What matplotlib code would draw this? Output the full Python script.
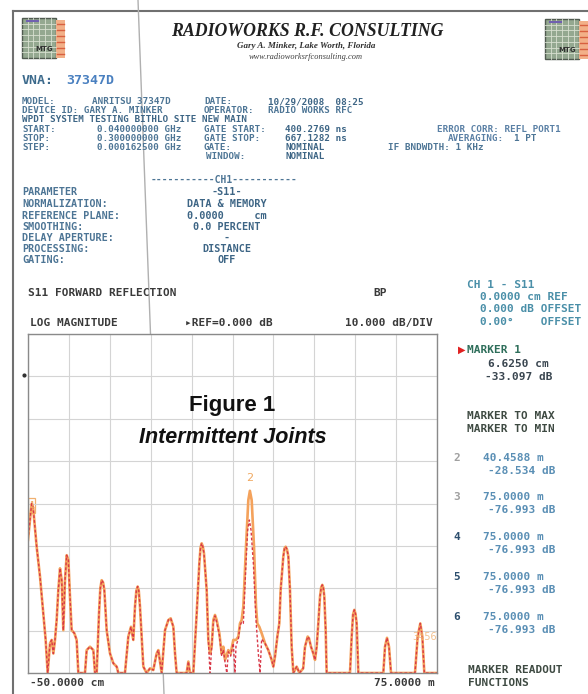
import matplotlib
matplotlib.use('Agg')
import matplotlib.pyplot as plt
import matplotlib.patches as mpatches
import numpy as np

# trace data (distance in m, magnitude in dB)
data_m = [-0.5, 0.05, 0.2, 0.45, 1.10, 1.72, 2.33, 2.76, 3.13, 3.56, 3.87, 4.18, 4.48, 4.79, 5.10,
          5.41, 5.72, 6.02, 6.33, 6.64, 6.95, 7.25, 7.56, 8.05, 8.48, 8.79, 10.02, 10.33, 10.94,
          11.56, 11.87, 12.18, 12.61, 12.85, 13.10, 13.35, 13.59, 14.02, 14.64, 15.25, 15.87,
          16.17, 17.40, 18.02, 18.51, 18.94, 19.25, 19.50, 19.74, 19.95, 20.17, 20.48, 20.79,
          21.40, 22.02, 22.63, 23.25, 23.56, 24.17, 24.79, 25.41, 25.84, 26.33, 26.64, 26.94,
          28.79, 29.10, 29.40, 30.02, 30.64, 31.13, 31.35, 31.56, 31.78, 31.99, 32.48, 32.79,
          33.10, 33.40, 33.71, 34.02, 34.33, 34.82, 35.25, 35.56, 35.87, 36.48, 36.91, 37.40,
          37.90, 38.33, 38.63, 38.94, 39.25, 39.74, 40.17, 40.46, 40.79, 41.22, 41.59, 41.83,
          42.20, 42.63, 43.25, 43.86, 44.48, 44.79, 45.10, 45.53, 45.89, 46.14, 46.63, 46.85,
          47.06, 47.30, 47.56, 47.86, 48.17, 48.48, 49.10, 49.60, 50.30, 50.63, 51.13, 51.37,
          51.74, 52.17, 52.48, 52.79, 53.09, 53.40, 53.62, 53.83, 54.02, 54.20, 54.45, 54.63,
          58.94, 59.25, 59.50, 59.74, 59.95, 60.17, 60.48, 65.09, 65.40, 65.77, 66.14, 66.51,
          70.94, 71.43, 71.92, 72.29, 72.66, 75.0]
data_db = [-38.6, -31.5, -30.0, -31.0, -40.2, -47.3, -55.9, -62.2, -70.0, -63.0, -62.2, -65.4,
           -62.2, -57.5, -50.4, -45.3, -48.1, -59.9, -48.1, -42.2, -43.3, -52.0, -59.9, -60.6,
           -62.2, -70.0, -70.0, -64.6, -63.8, -64.6, -70.0, -70.0, -55.9, -50.0, -48.1, -48.6,
           -50.4, -59.9, -65.4, -67.7, -68.5, -70.0, -70.0, -61.4, -59.1, -62.2, -54.3, -50.6,
           -49.6, -50.6, -54.3, -61.4, -68.5, -70.0, -68.9, -69.3, -65.4, -64.6, -70.0, -59.9,
           -57.5, -57.1, -59.1, -65.4, -70.0, -70.0, -67.3, -70.0, -70.0, -55.9, -44.1, -40.4,
           -39.4, -40.2, -41.8, -50.4, -62.2, -65.4, -63.8, -57.5, -56.3, -57.5, -60.6, -65.4,
           -63.8, -66.9, -64.6, -65.4, -62.2, -62.2, -61.4, -58.3, -57.5, -54.3, -40.2, -29.2,
           -27.0, -29.2, -40.2, -54.3, -58.3, -59.1, -60.6, -63.0, -64.6, -66.9, -68.5, -66.1,
           -61.4, -58.3, -50.4, -42.5, -40.6, -40.2, -40.8, -42.5, -50.4, -63.8, -70.0, -68.5,
           -70.0, -68.9, -63.8, -61.4, -61.8, -63.8, -65.4, -66.9, -63.8, -58.3, -52.0, -49.8,
           -49.2, -49.9, -52.0, -59.9, -70.0, -70.0, -61.4, -56.2, -55.1, -56.0, -58.3, -70.0,
           -70.0, -63.8, -61.7, -63.8, -70.0, -70.0, -61.4, -58.3, -61.4, -70.0, -70.0]

# memory trace differs from the data trace between 32.5 m and 42.7 m
mem_m = [32.79, 33.10, 33.40, 33.71, 34.02, 34.33, 34.82, 35.25, 35.56, 35.87, 36.20, 36.48,
         36.91, 37.40, 37.70, 37.90, 38.33, 38.63, 38.94, 39.25, 39.74, 40.05, 40.36, 40.67,
         41.10, 41.59, 42.02, 42.33, 42.63]
mem_db = [-62.2, -70.0, -64.0, -58.0, -56.5, -58.0, -61.0, -66.0, -64.5, -67.5, -70.0, -65.0,
          -66.0, -63.0, -70.0, -63.5, -62.0, -58.8, -58.0, -58.3, -44.1, -36.3, -33.9, -36.3,
          -44.1, -57.5, -65.4, -70.0, -62.0]

# page text: (x px, y px, text, colour)
header_rows = [
    (22, 101.5, 'MODEL:', '#4d7595'), (92, 101.5, 'ANRITSU 37347D', '#4d7595'),
    (204, 101.5, 'DATE:', '#4d7595'), (268, 101.5, '10/29/2008  08:25', '#3d6585'),
    (22, 110.5, 'DEVICE ID: GARY A. MINKER', '#4d7595'),
    (204, 110.5, 'OPERATOR:', '#4d7595'), (268, 110.5, 'RADIO WORKS RFC', '#4d7595'),
    (22, 119.5, 'WPDT SYSTEM TESTING BITHLO SITE NEW MAIN', '#3d6585'),
    (22, 129.5, 'START:', '#4d7595'), (97, 129.5, '0.040000000 GHz', '#4d7595'),
    (204, 129.5, 'GATE START:', '#4d7595'), (285, 129.5, '400.2769 ns', '#3d6585'),
    (437, 129.5, 'ERROR CORR: REFL PORT1', '#5a80a5'),
    (22, 138.5, 'STOP:', '#4d7595'), (97, 138.5, '0.300000000 GHz', '#4d7595'),
    (204, 138.5, 'GATE STOP:', '#4d7595'), (285, 138.5, '667.1282 ns', '#3d6585'),
    (448, 138.5, 'AVERAGING:', '#5a80a5'), (514, 138.5, '1 PT', '#4d7595'),
    (22, 147.5, 'STEP:', '#4d7595'), (97, 147.5, '0.000162500 GHz', '#4d7595'),
    (204, 147.5, 'GATE:', '#4d7595'), (285, 147.5, 'NOMINAL', '#3d6585'),
    (388, 147.5, 'IF BNDWDTH: 1 KHz', '#4d7595'),
    (206, 156.5, 'WINDOW:', '#4d7595'), (285, 156.5, 'NOMINAL', '#3d6585'),
]
param_labels = ['PARAMETER', 'NORMALIZATION:', 'REFERENCE PLANE:', 'SMOOTHING:',
                'DELAY APERTURE:', 'PROCESSING:', 'GATING:']
param_values = ['-S11-', 'DATA & MEMORY', '0.0000     cm', '0.0 PERCENT', '-', 'DISTANCE', 'OFF']
param_y = [192, 204, 216, 227, 238, 249, 260]

marker_num = ['2', '3', '4', '5', '6']
marker_pos = ['40.4588 m', '75.0000 m', '75.0000 m', '75.0000 m', '75.0000 m']
marker_val = ['-28.534 dB', '-76.993 dB', '-76.993 dB', '-76.993 dB', '-76.993 dB']
marker_y = [458, 497, 537, 577, 617]
marker_num_col = ['#a0a0a0', '#a0a0a0', '#2d4f6e', '#2d4f6e', '#2d4f6e']

W, H = 588, 694
fig = plt.figure(figsize=(W / 100, H / 100), dpi=100)
fig.patch.set_facecolor('white')

bg = fig.add_axes([0, 0, 1, 1])
bg.set_xlim(0, W)
bg.set_ylim(H, 0)
bg.axis('off')

mono = 'DejaVu Sans Mono'

# page frame and the scanner fold line
bg.plot([13, W], [11, 11], color='#707070', lw=1.5)
bg.plot([13, 13], [11, H], color='#707070', lw=1.5)
bg.plot([138, 164], [0, H], color='#b0b0b0', lw=1.0)


def logo(x0, y0):
    bg.add_patch(mpatches.Rectangle((x0, y0), 34, 40, facecolor='#94a890', edgecolor='#505a50', lw=1))
    for k in range(1, 6):
        bg.plot([x0 + k * 5.7, x0 + k * 5.7], [y0, y0 + 40], color='#d8e0d0', lw=0.6)
    for k in range(1, 7):
        bg.plot([x0, x0 + 34], [y0 + k * 5.7, y0 + k * 5.7], color='#d8e0d0', lw=0.6)
    bg.add_patch(mpatches.Rectangle((x0 + 34, y0 + 2), 9, 38, facecolor='#f2b088', edgecolor='none'))
    for k in range(6):
        bg.plot([x0 + 35, x0 + 42], [y0 + 6 + k * 6, y0 + 6 + k * 6], color='#d86040', lw=1)
    bg.plot([x0 + 5, x0 + 16], [y0 + 3, y0 + 3], color='#7060b0', lw=1.5)
    bg.text(x0 + 22, y0 + 33, 'MTG', fontsize=5, color='#303030', ha='center', weight='bold')


logo(22, 18)
logo(545, 19)

bg.text(307, 31, 'RADIOWORKS R.F. CONSULTING', ha='center', va='center', fontsize=12.8,
        family='Liberation Serif', weight='bold', style='italic', color='#202020')
bg.text(306, 46, 'Gary A. Minker, Lake Worth, Florida', ha='center', va='center', fontsize=6.5,
        family='Liberation Serif', weight='bold', style='italic', color='#303030')
bg.text(306, 57, 'www.radioworksrfconsulting.com', ha='center', va='center', fontsize=6,
        family='Liberation Serif', style='italic', color='#404040')

bg.text(22, 80, 'VNA:', fontsize=9.5, family=mono, weight='bold', color='#3c6a8c', va='center')
bg.text(66, 80, '37347D', fontsize=9.5, family=mono, weight='bold', color='#4a80c0', va='center')

for x, y, s, c in header_rows:
    bg.text(x, y, s, fontsize=6.7, family=mono, weight='bold', color=c, va='center')

bg.text(224, 180, '-----------CH1-----------', fontsize=7, family=mono, weight='bold',
        color='#4d7595', ha='center', va='center')
for lab, val, y in zip(param_labels, param_values, param_y):
    bg.text(22, y, lab, fontsize=7.3, family=mono, weight='bold', color='#4d7595', va='center')
    bg.text(227, y, val, fontsize=7.3, family=mono, weight='bold', color='#3d6585',
            ha='center', va='center')

dark = '#3a3a3a'
bg.text(28, 293, 'S11 FORWARD REFLECTION', fontsize=8, family=mono, weight='bold', color=dark, va='center')
bg.text(373, 293, 'BP', fontsize=8, family=mono, weight='bold', color=dark, va='center')
bg.text(30, 323, 'LOG MAGNITUDE', fontsize=8, family=mono, weight='bold', color=dark, va='center')
bg.text(185, 323, '\u25b8REF=0.000 dB', fontsize=8, family=mono, weight='bold', color=dark, va='center')
bg.text(433, 323, '10.000 dB/DIV', fontsize=8, family=mono, weight='bold', color=dark,
        ha='right', va='center')
bg.text(30, 683, '-50.0000 cm', fontsize=8, family=mono, weight='bold', color=dark, va='center')
bg.text(435, 683, '75.0000 m', fontsize=8, family=mono, weight='bold', color=dark,
        ha='right', va='center')
bg.plot([23.5], [375], marker='o', ms=2, color='#303030')

# right-hand readout panel
teal = '#4a8fa8'
bg.text(467, 285, 'CH 1 - S11', fontsize=8, family=mono, weight='bold', color=teal, va='center')
bg.text(480, 297, '0.0000 cm REF', fontsize=8, family=mono, weight='bold', color=teal, va='center')
bg.text(480, 309, '0.000 dB OFFSET', fontsize=8, family=mono, weight='bold', color=teal, va='center')
bg.text(480, 322, '0.00\u00b0    OFFSET', fontsize=8, family=mono, weight='bold', color=teal, va='center')
bg.text(458, 350, '\u25b6', fontsize=7, color='#e02020', va='center')
bg.text(467, 350, 'MARKER 1', fontsize=8, family=mono, weight='bold', color='#2e6e5a', va='center')
bg.text(488, 364, '6.6250 cm', fontsize=8, family=mono, weight='bold', color='#3a4650', va='center')
bg.text(485, 377, '-33.097 dB', fontsize=8, family=mono, weight='bold', color='#3a4650', va='center')
bg.text(467, 416, 'MARKER TO MAX', fontsize=8, family=mono, weight='bold', color='#3e4a42', va='center')
bg.text(467, 429, 'MARKER TO MIN', fontsize=8, family=mono, weight='bold', color='#3e4a42', va='center')
for n, p, v, y, nc in zip(marker_num, marker_pos, marker_val, marker_y, marker_num_col):
    bg.text(453, y, n, fontsize=8, family=mono, weight='bold', color=nc, va='center')
    bg.text(483, y, p, fontsize=8, family=mono, weight='bold', color='#5a8fb5', va='center')
    bg.text(488, y + 13, v, fontsize=8, family=mono, weight='bold', color='#5a8fb5', va='center')
bg.text(468, 670, 'MARKER READOUT', fontsize=8, family=mono, weight='bold', color='#3e4a42', va='center')
bg.text(468, 683, 'FUNCTIONS', fontsize=8, family=mono, weight='bold', color='#3e4a42', va='center')

# the trace display
x0, x1, y0, y1 = 28, 437, 334, 673
ax = fig.add_axes([x0 / W, 1 - y1 / H, (x1 - x0) / W, (y1 - y0) / H])
ax.set_xlim(-0.5, 75)
ax.set_ylim(-70, 10)
ax.set_xticks(np.linspace(-0.5, 75, 11))
ax.set_yticks(np.arange(-70, 11, 10))
ax.tick_params(length=0, labelbottom=False, labelleft=False)
ax.grid(True, color='#d4d4d4', lw=0.8)
for sp in ax.spines.values():
    sp.set_color('#8a8a8a')
    sp.set_linewidth(1.0)

dm = np.array(data_m)
dd = np.array(data_db)
keep_lo = dm < mem_m[0]
keep_hi = dm > mem_m[-1]
mm = np.concatenate([dm[keep_lo], mem_m, dm[keep_hi]])
md = np.concatenate([dd[keep_lo], mem_db, dd[keep_hi]])

ax.plot(dm, dd, color='#f4a25c', lw=1.9, clip_on=True)
ax.plot(mm, md, color='#d83848', lw=1.0, ls=(0, (2, 1.5)), clip_on=True)

# markers
ax.add_patch(mpatches.Rectangle((-0.45, -32.2), 1.3, 3.6, facecolor='none', edgecolor='#f0b070', lw=0.9))
ax.text(0.2, -30.4, '1', fontsize=6, color='#f0a860', ha='center', va='center')
ax.text(40.46, -24.0, '2', fontsize=8, color='#f0a860', ha='center', va='center')
ax.text(75, -61.5, '3456', fontsize=7, color='#f0b070', ha='right', va='center', alpha=0.8)

ax.text(0.5, 0.79, 'Figure 1', transform=ax.transAxes, ha='center', va='center',
        fontsize=16, family='Liberation Sans', weight='bold', color='#111111')
ax.text(0.5, 0.695, 'Intermittent Joints', transform=ax.transAxes, ha='center', va='center',
        fontsize=15.5, family='Liberation Sans', weight='bold', style='italic', color='#111111')

fig.savefig('out.png', dpi=100, facecolor='white')
